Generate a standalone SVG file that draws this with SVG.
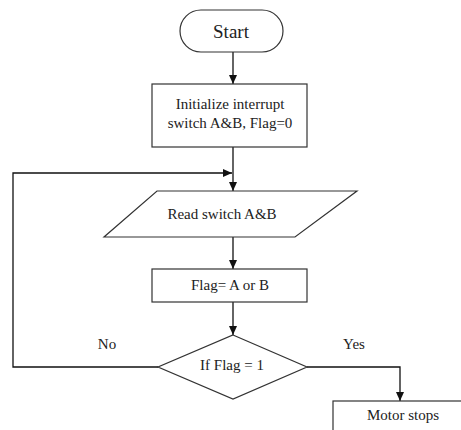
<svg xmlns="http://www.w3.org/2000/svg" width="461" height="430" viewBox="0 0 461 430">
<style>
.s{fill:#fff;stroke:#333;stroke-width:1.2}
.t{font-family:"Liberation Serif",serif;font-size:15px;fill:#222;text-anchor:middle}
.c{fill:none;stroke:#111;stroke-width:1.3}
</style>
<defs>
<marker id="a" markerWidth="10" markerHeight="10" refX="9" refY="5" orient="auto" markerUnits="userSpaceOnUse">
<path d="M0,1 L9,5 L0,9 Z" fill="#111"/>
</marker>
</defs>
<rect width="461" height="430" fill="#fff"/>
<g id="connectors">
<line class="c" x1="233" y1="52" x2="233" y2="84" marker-end="url(#a)"/>
<line class="c" x1="233" y1="147" x2="233" y2="191" marker-end="url(#a)"/>
<polyline class="c" points="158,367 13,367 13,173 232,173" marker-end="url(#a)"/>
<line class="c" x1="233" y1="237" x2="233" y2="269" marker-end="url(#a)"/>
<line class="c" x1="233" y1="302" x2="233" y2="335" marker-end="url(#a)"/>
<polyline class="c" points="307,367 400,367 400,401" marker-end="url(#a)"/>
</g>
<g id="start">
<rect class="s" x="180" y="10" width="103" height="42" rx="21" ry="21"/>
<text class="t" x="231" y="38" style="font-size:19px">Start</text>
</g>
<g id="init">
<rect class="s" x="152" y="84" width="155" height="63"/>
<text class="t" x="230" y="109">Initialize interrupt</text>
<text class="t" x="230" y="128">switch A&amp;B, Flag=0</text>
</g>
<g id="read">
<polygon class="s" points="157,191 357,191 295,237 104,237"/>
<text class="t" x="222" y="219">Read switch A&amp;B</text>
</g>
<g id="flag">
<rect class="s" x="152" y="269" width="155" height="33"/>
<text class="t" x="230" y="290">Flag= A or B</text>
</g>
<g id="decision">
<polygon class="s" points="233,335 307,367 233,399 158,367"/>
<text class="t" x="232" y="370">If Flag = 1</text>
</g>
<text class="t" x="107" y="349">No</text>
<text class="t" x="354" y="349">Yes</text>
<g id="motor">
<rect class="s" x="333" y="401" width="140" height="40"/>
<text class="t" x="403" y="420">Motor stops</text>
</g>
</svg>
